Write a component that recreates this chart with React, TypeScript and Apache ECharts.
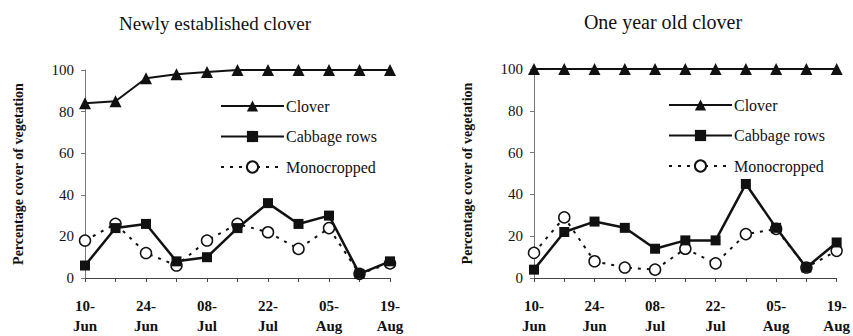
import React, { useEffect, useRef } from "react";
import * as echarts from "echarts";

// Sampling dates (weekly)
const dates = [
  "10-Jun", "17-Jun", "24-Jun", "01-Jul", "08-Jul", "15-Jul",
  "22-Jul", "29-Jul", "05-Aug", "12-Aug", "19-Aug",
];

// Newly established clover
const newClover = [84, 85, 96, 98, 99, 100, 100, 100, 100, 100, 100];
const newCabbage = [6, 24, 26, 8, 10, 24, 36, 26, 30, 2, 8];
const newMono = [18, 26, 12, 6, 18, 26, 22, 14, 24, 2, 7];

// One year old clover
const oldClover = [100, 100, 100, 100, 100, 100, 100, 100, 100, 100, 100];
const oldCabbage = [4, 22, 27, 24, 14, 18, 18, 45, 24, 5, 17];
const oldMono = [12, 29, 8, 5, 4, 14, 7, 21, 23.5, 5, 13];

const titles = ["Newly established clover", "One year old clover"];
const yName = "Percentage cover of vegetation";
const seriesNames = ["Clover", "Cabbage rows", "Monocropped"];

const SERIF = "Liberation Serif";
const INK = "#111";

export default function App() {
  const ref = useRef<HTMLDivElement>(null);

  useEffect(() => {
    if (!ref.current) return;
    const chart = echarts.init(ref.current, undefined, { renderer: "svg" });

    const grids = [
      { left: 85, top: 70, width: 305, height: 216 },
      { left: 534, top: 69, width: 304, height: 216 },
    ];

    const xAxis = grids.map((_, i) => ({
      type: "category",
      gridIndex: i,
      data: dates,
      boundaryGap: false,
      axisLine: { lineStyle: { color: "#444", width: 1 } },
      axisTick: { show: true, interval: 0, length: 4, lineStyle: { color: "#444" } },
      axisLabel: {
        interval: 1,
        margin: 18,
        color: INK,
        fontFamily: SERIF,
        fontWeight: "bold",
        fontSize: 15,
        lineHeight: 20,
        formatter: (v: string) => v.replace("-", "-\n"),
      },
      splitLine: { show: false },
    }));

    const yAxis = grids.map((_, i) => ({
      type: "value",
      gridIndex: i,
      min: 0,
      max: 100,
      interval: 20,
      name: yName,
      nameLocation: "middle",
      nameGap: 60,
      nameTextStyle: {
        color: INK,
        fontFamily: SERIF,
        fontWeight: "bold",
        fontSize: 14,
      },
      axisLine: { show: true, lineStyle: { color: "#777", width: 1 } },
      axisTick: { show: true, length: 4, lineStyle: { color: "#777" } },
      axisLabel: {
        margin: 11,
        color: INK,
        fontFamily: SERIF,
        fontSize: 15,
      },
      splitLine: { show: false },
    }));

    const makeSeries = (i: number, clover: number[], cabbage: number[], mono: number[]) => [
      {
        name: seriesNames[0],
        type: "line",
        xAxisIndex: i,
        yAxisIndex: i,
        data: clover,
        clip: false,
        symbol: "triangle",
        symbolSize: 12,
        itemStyle: { color: INK },
        lineStyle: { color: INK, width: 2 },
      },
      {
        name: seriesNames[1],
        type: "line",
        xAxisIndex: i,
        yAxisIndex: i,
        data: cabbage,
        clip: false,
        symbol: "rect",
        symbolSize: 10,
        itemStyle: { color: INK },
        lineStyle: { color: INK, width: 2.5 },
      },
      {
        name: seriesNames[2],
        type: "line",
        xAxisIndex: i,
        yAxisIndex: i,
        data: mono,
        clip: false,
        symbol: "circle",
        symbolSize: 11,
        itemStyle: { color: "#fff", borderColor: INK, borderWidth: 1.5 },
        lineStyle: { color: INK, width: 2, type: [3, 6] },
        z: 1,
      },
    ];

    const legendBase = {
      orient: "vertical",
      padding: 0,
      itemWidth: 63,
      itemHeight: 14,
      itemGap: 14.5,
      data: seriesNames,
      selectedMode: false,
      textStyle: { color: INK, fontFamily: SERIF, fontSize: 16, padding: [0, 0, 0, -3] },
    };

    chart.setOption({
      animation: false,
      backgroundColor: "#fff",
      textStyle: { fontFamily: SERIF },
      title: [
        {
          text: titles[0],
          left: 210,
          top: 9,
          textAlign: "center",
          textStyle: { color: INK, fontFamily: SERIF, fontWeight: "normal", fontSize: 19 },
        },
        {
          text: titles[1],
          left: 658,
          top: 7,
          textAlign: "center",
          textStyle: { color: INK, fontFamily: SERIF, fontWeight: "normal", fontSize: 20 },
        },
      ],
      legend: [
        { ...legendBase, left: 220, top: 98 },
        { ...legendBase, left: 668, top: 97 },
      ],
      grid: grids,
      xAxis,
      yAxis,
      series: [
        ...makeSeries(0, newClover, newCabbage, newMono),
        ...makeSeries(1, oldClover, oldCabbage, oldMono),
      ],
    });

    return () => chart.dispose();
  }, []);

  return <div ref={ref} style={{ width: 853, height: 336, position: "absolute", left: 0, top: 0 }} />;
}
